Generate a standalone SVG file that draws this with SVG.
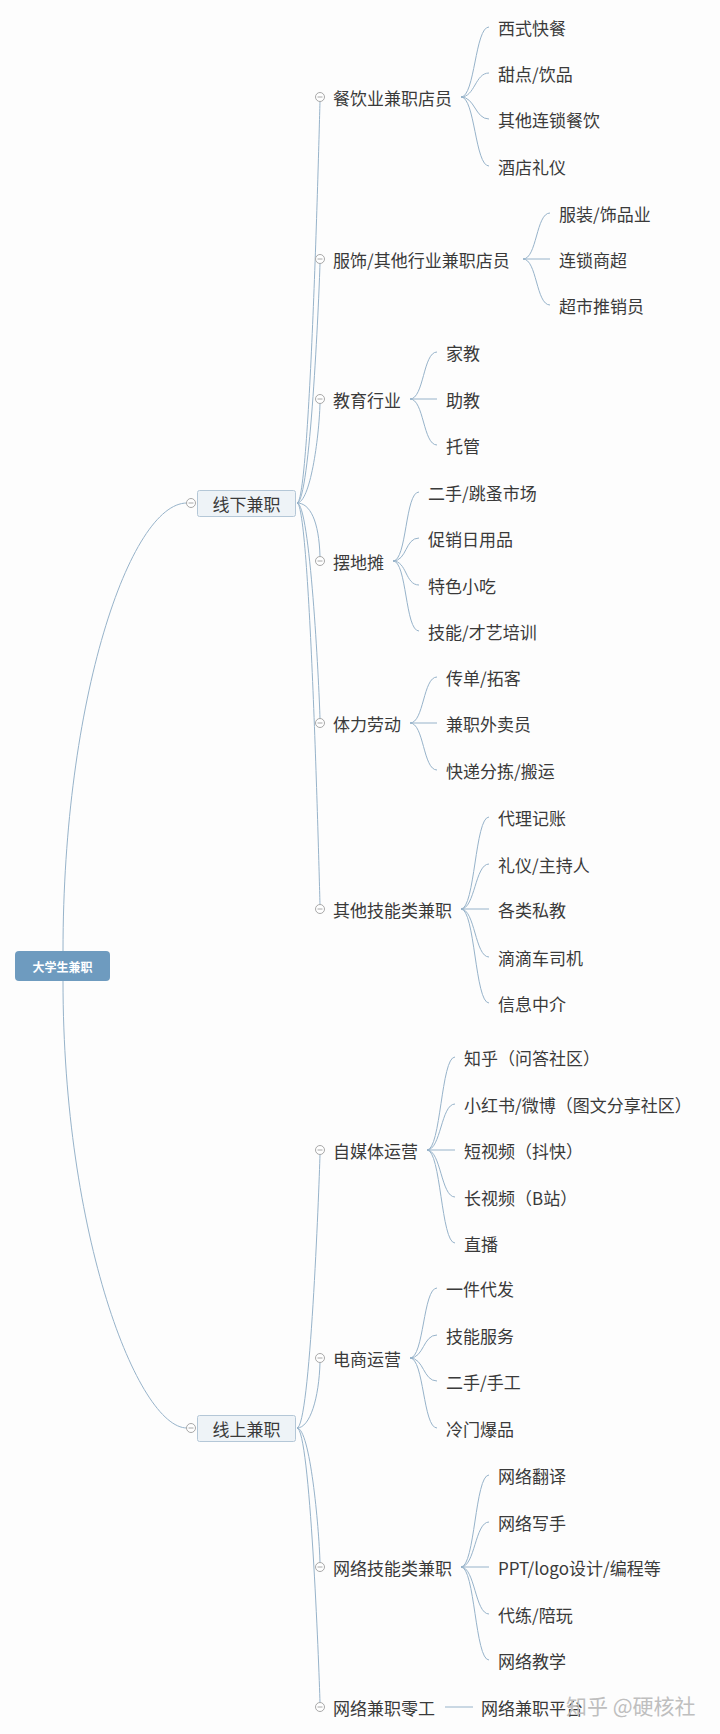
<svg xmlns="http://www.w3.org/2000/svg" xmlns:xlink="http://www.w3.org/1999/xlink" width="720" height="1734" viewBox="0 0 720 1734">
<style>
.bg{fill:#fdfdfd}
.ln{fill:none;stroke:#97b3ca;stroke-width:1}
.t{font-family:"Noto Sans CJK SC","Liberation Sans",sans-serif;font-size:17px;fill:#3a3a3a;dominant-baseline:central}
.rt{font-family:"Noto Sans CJK SC","Liberation Sans",sans-serif;font-size:12px;fill:#ffffff;font-weight:bold;dominant-baseline:central;text-anchor:middle}
.l1box{fill:#eef3f7;stroke:#b4c7d7;stroke-width:1}
.l1t{text-anchor:middle}
.wm{font-family:"Noto Sans CJK SC","Liberation Sans",sans-serif;font-size:21px;fill:#bfbfbf;dominant-baseline:central}
</style>
<defs>
<g id="col"><circle cx="0" cy="0" r="4.5" fill="#ffffff" stroke="#a8a8a8" stroke-width="1"/><line x1="-2.5" y1="0" x2="2.5" y2="0" stroke="#a8a8a8" stroke-width="1"/></g>
</defs>
<rect class="bg" x="0" y="0" width="720" height="1734"/>

<g id="connectors">
<path class="ln" d="M63,951 C63,700 130,503 187,503"/>
<path class="ln" d="M63,981 C63,1235 138,1428 187,1428"/>
<path class="ln" d="M297,503 C310,503 319,137 320,101.5"/>
<path class="ln" d="M297,503 C310,503 319,299 320,263.5"/>
<path class="ln" d="M297,503 C310,503 319,439 320,403.5"/>
<path class="ln" d="M297,503 C310,503 319,521 320,556.5"/>
<path class="ln" d="M297,503 C310,503 319,683 320,718.5"/>
<path class="ln" d="M297,503 C310,503 319,869 320,904.5"/>
<path class="ln" d="M297,1428 C310,1428 319,1190 320,1154.5"/>
<path class="ln" d="M297,1428 C310,1428 319,1398 320,1362.5"/>
<path class="ln" d="M297,1428 C310,1428 319,1527 320,1562.5"/>
<path class="ln" d="M297,1428 C310,1428 319,1667 320,1702.5"/>
<path class="ln" d="M461,97 C475,97 475,27 489,27"/>
<path class="ln" d="M461,97 C475,97 475,73 489,73"/>
<path class="ln" d="M461,97 C475,97 475,119 489,119"/>
<path class="ln" d="M461,97 C475,97 475,166 489,166"/>
<path class="ln" d="M523,259 C537,259 536,213 550,213"/>
<path class="ln" d="M523,259 L550,259"/>
<path class="ln" d="M523,259 C537,259 536,305 550,305"/>
<path class="ln" d="M410,399 C424,399 423,352 437,352"/>
<path class="ln" d="M410,399 L437,399"/>
<path class="ln" d="M410,399 C424,399 423,445 437,445"/>
<path class="ln" d="M393,561 C407,561 405,492 419,492"/>
<path class="ln" d="M393,561 C407,561 405,538 419,538"/>
<path class="ln" d="M393,561 C407,561 405,585 419,585"/>
<path class="ln" d="M393,561 C407,561 405,631 419,631"/>
<path class="ln" d="M410,723 C424,723 423,677 437,677"/>
<path class="ln" d="M410,723 L437,723"/>
<path class="ln" d="M410,723 C424,723 423,770 437,770"/>
<path class="ln" d="M461,909 C475,909 475,817 489,817"/>
<path class="ln" d="M461,909 C475,909 475,864 489,864"/>
<path class="ln" d="M461,909 L489,909"/>
<path class="ln" d="M461,909 C475,909 475,957 489,957"/>
<path class="ln" d="M461,909 C475,909 475,1003 489,1003"/>
<path class="ln" d="M427,1150 C441,1150 441,1057 455,1057"/>
<path class="ln" d="M427,1150 C441,1150 441,1104 455,1104"/>
<path class="ln" d="M427,1150 L455,1150"/>
<path class="ln" d="M427,1150 C441,1150 441,1197 455,1197"/>
<path class="ln" d="M427,1150 C441,1150 441,1243 455,1243"/>
<path class="ln" d="M410,1358 C424,1358 423,1288 437,1288"/>
<path class="ln" d="M410,1358 C424,1358 423,1335 437,1335"/>
<path class="ln" d="M410,1358 C424,1358 423,1381 437,1381"/>
<path class="ln" d="M410,1358 C424,1358 423,1428 437,1428"/>
<path class="ln" d="M461,1567 C475,1567 475,1475 489,1475"/>
<path class="ln" d="M461,1567 C475,1567 475,1522 489,1522"/>
<path class="ln" d="M461,1567 L489,1567"/>
<path class="ln" d="M461,1567 C475,1567 475,1614 489,1614"/>
<path class="ln" d="M461,1567 C475,1567 475,1660 489,1660"/>
<path class="ln" d="M445,1707 L473,1707"/>
</g>

<g id="root">
<rect x="15" y="951" width="95" height="30" rx="4" fill="#6e9bbf"/>
<text class="rt" x="62.5" y="966">大学生兼职</text>
</g>

<g id="n-xianxia">
<rect class="l1box" x="197.5" y="490.5" width="98" height="26" rx="2"/>
<text class="t l1t" x="246.5" y="503">线下兼职</text>
<use xlink:href="#col" x="191" y="503"/>
</g>
<g id="n-xianshang">
<rect class="l1box" x="197.5" y="1415.5" width="98" height="26" rx="2"/>
<text class="t l1t" x="246.5" y="1428">线上兼职</text>
<use xlink:href="#col" x="191" y="1428"/>
</g>

<g id="n-canyin"><use xlink:href="#col" x="320" y="97"/><text class="t" x="333" y="97">餐饮业兼职店员</text></g>
<g id="n-canyin-1"><text class="t" x="498" y="27">西式快餐</text></g>
<g id="n-canyin-2"><text class="t" x="498" y="73">甜点/饮品</text></g>
<g id="n-canyin-3"><text class="t" x="498" y="119">其他连锁餐饮</text></g>
<g id="n-canyin-4"><text class="t" x="498" y="166">酒店礼仪</text></g>

<g id="n-fushi"><use xlink:href="#col" x="320" y="259"/><text class="t" x="333" y="259">服饰/其他行业兼职店员</text></g>
<g id="n-fushi-1"><text class="t" x="559" y="213">服装/饰品业</text></g>
<g id="n-fushi-2"><text class="t" x="559" y="259">连锁商超</text></g>
<g id="n-fushi-3"><text class="t" x="559" y="305">超市推销员</text></g>

<g id="n-jiaoyu"><use xlink:href="#col" x="320" y="399"/><text class="t" x="333" y="399">教育行业</text></g>
<g id="n-jiaoyu-1"><text class="t" x="446" y="352">家教</text></g>
<g id="n-jiaoyu-2"><text class="t" x="446" y="399">助教</text></g>
<g id="n-jiaoyu-3"><text class="t" x="446" y="445">托管</text></g>

<g id="n-baiditan"><use xlink:href="#col" x="320" y="561"/><text class="t" x="333" y="561">摆地摊</text></g>
<g id="n-baiditan-1"><text class="t" x="428" y="492">二手/跳蚤市场</text></g>
<g id="n-baiditan-2"><text class="t" x="428" y="538">促销日用品</text></g>
<g id="n-baiditan-3"><text class="t" x="428" y="585">特色小吃</text></g>
<g id="n-baiditan-4"><text class="t" x="428" y="631">技能/才艺培训</text></g>

<g id="n-tili"><use xlink:href="#col" x="320" y="723"/><text class="t" x="333" y="723">体力劳动</text></g>
<g id="n-tili-1"><text class="t" x="446" y="677">传单/拓客</text></g>
<g id="n-tili-2"><text class="t" x="446" y="723">兼职外卖员</text></g>
<g id="n-tili-3"><text class="t" x="446" y="770">快递分拣/搬运</text></g>

<g id="n-qita"><use xlink:href="#col" x="320" y="909"/><text class="t" x="333" y="909">其他技能类兼职</text></g>
<g id="n-qita-1"><text class="t" x="498" y="817">代理记账</text></g>
<g id="n-qita-2"><text class="t" x="498" y="864">礼仪/主持人</text></g>
<g id="n-qita-3"><text class="t" x="498" y="909">各类私教</text></g>
<g id="n-qita-4"><text class="t" x="498" y="957">滴滴车司机</text></g>
<g id="n-qita-5"><text class="t" x="498" y="1003">信息中介</text></g>

<g id="n-zimeiti"><use xlink:href="#col" x="320" y="1150"/><text class="t" x="333" y="1150">自媒体运营</text></g>
<g id="n-zimeiti-1"><text class="t" x="464" y="1057">知乎（问答社区）</text></g>
<g id="n-zimeiti-2"><text class="t" x="464" y="1104">小红书/微博（图文分享社区）</text></g>
<g id="n-zimeiti-3"><text class="t" x="464" y="1150">短视频（抖快）</text></g>
<g id="n-zimeiti-4"><text class="t" x="464" y="1197">长视频（B站）</text></g>
<g id="n-zimeiti-5"><text class="t" x="464" y="1243">直播</text></g>

<g id="n-dianshang"><use xlink:href="#col" x="320" y="1358"/><text class="t" x="333" y="1358">电商运营</text></g>
<g id="n-dianshang-1"><text class="t" x="446" y="1288">一件代发</text></g>
<g id="n-dianshang-2"><text class="t" x="446" y="1335">技能服务</text></g>
<g id="n-dianshang-3"><text class="t" x="446" y="1381">二手/手工</text></g>
<g id="n-dianshang-4"><text class="t" x="446" y="1428">冷门爆品</text></g>

<g id="n-wangluo"><use xlink:href="#col" x="320" y="1567"/><text class="t" x="333" y="1567">网络技能类兼职</text></g>
<g id="n-wangluo-1"><text class="t" x="498" y="1475">网络翻译</text></g>
<g id="n-wangluo-2"><text class="t" x="498" y="1522">网络写手</text></g>
<g id="n-wangluo-3"><text class="t" x="498" y="1567">PPT/logo设计/编程等</text></g>
<g id="n-wangluo-4"><text class="t" x="498" y="1614">代练/陪玩</text></g>
<g id="n-wangluo-5"><text class="t" x="498" y="1660">网络教学</text></g>

<g id="n-linggong"><use xlink:href="#col" x="320" y="1707"/><text class="t" x="333" y="1707">网络兼职零工</text></g>
<g id="n-linggong-1"><text class="t" x="481" y="1707">网络兼职平台</text></g>

<text class="wm" x="566" y="1705">知乎 @硬核社</text>
</svg>
